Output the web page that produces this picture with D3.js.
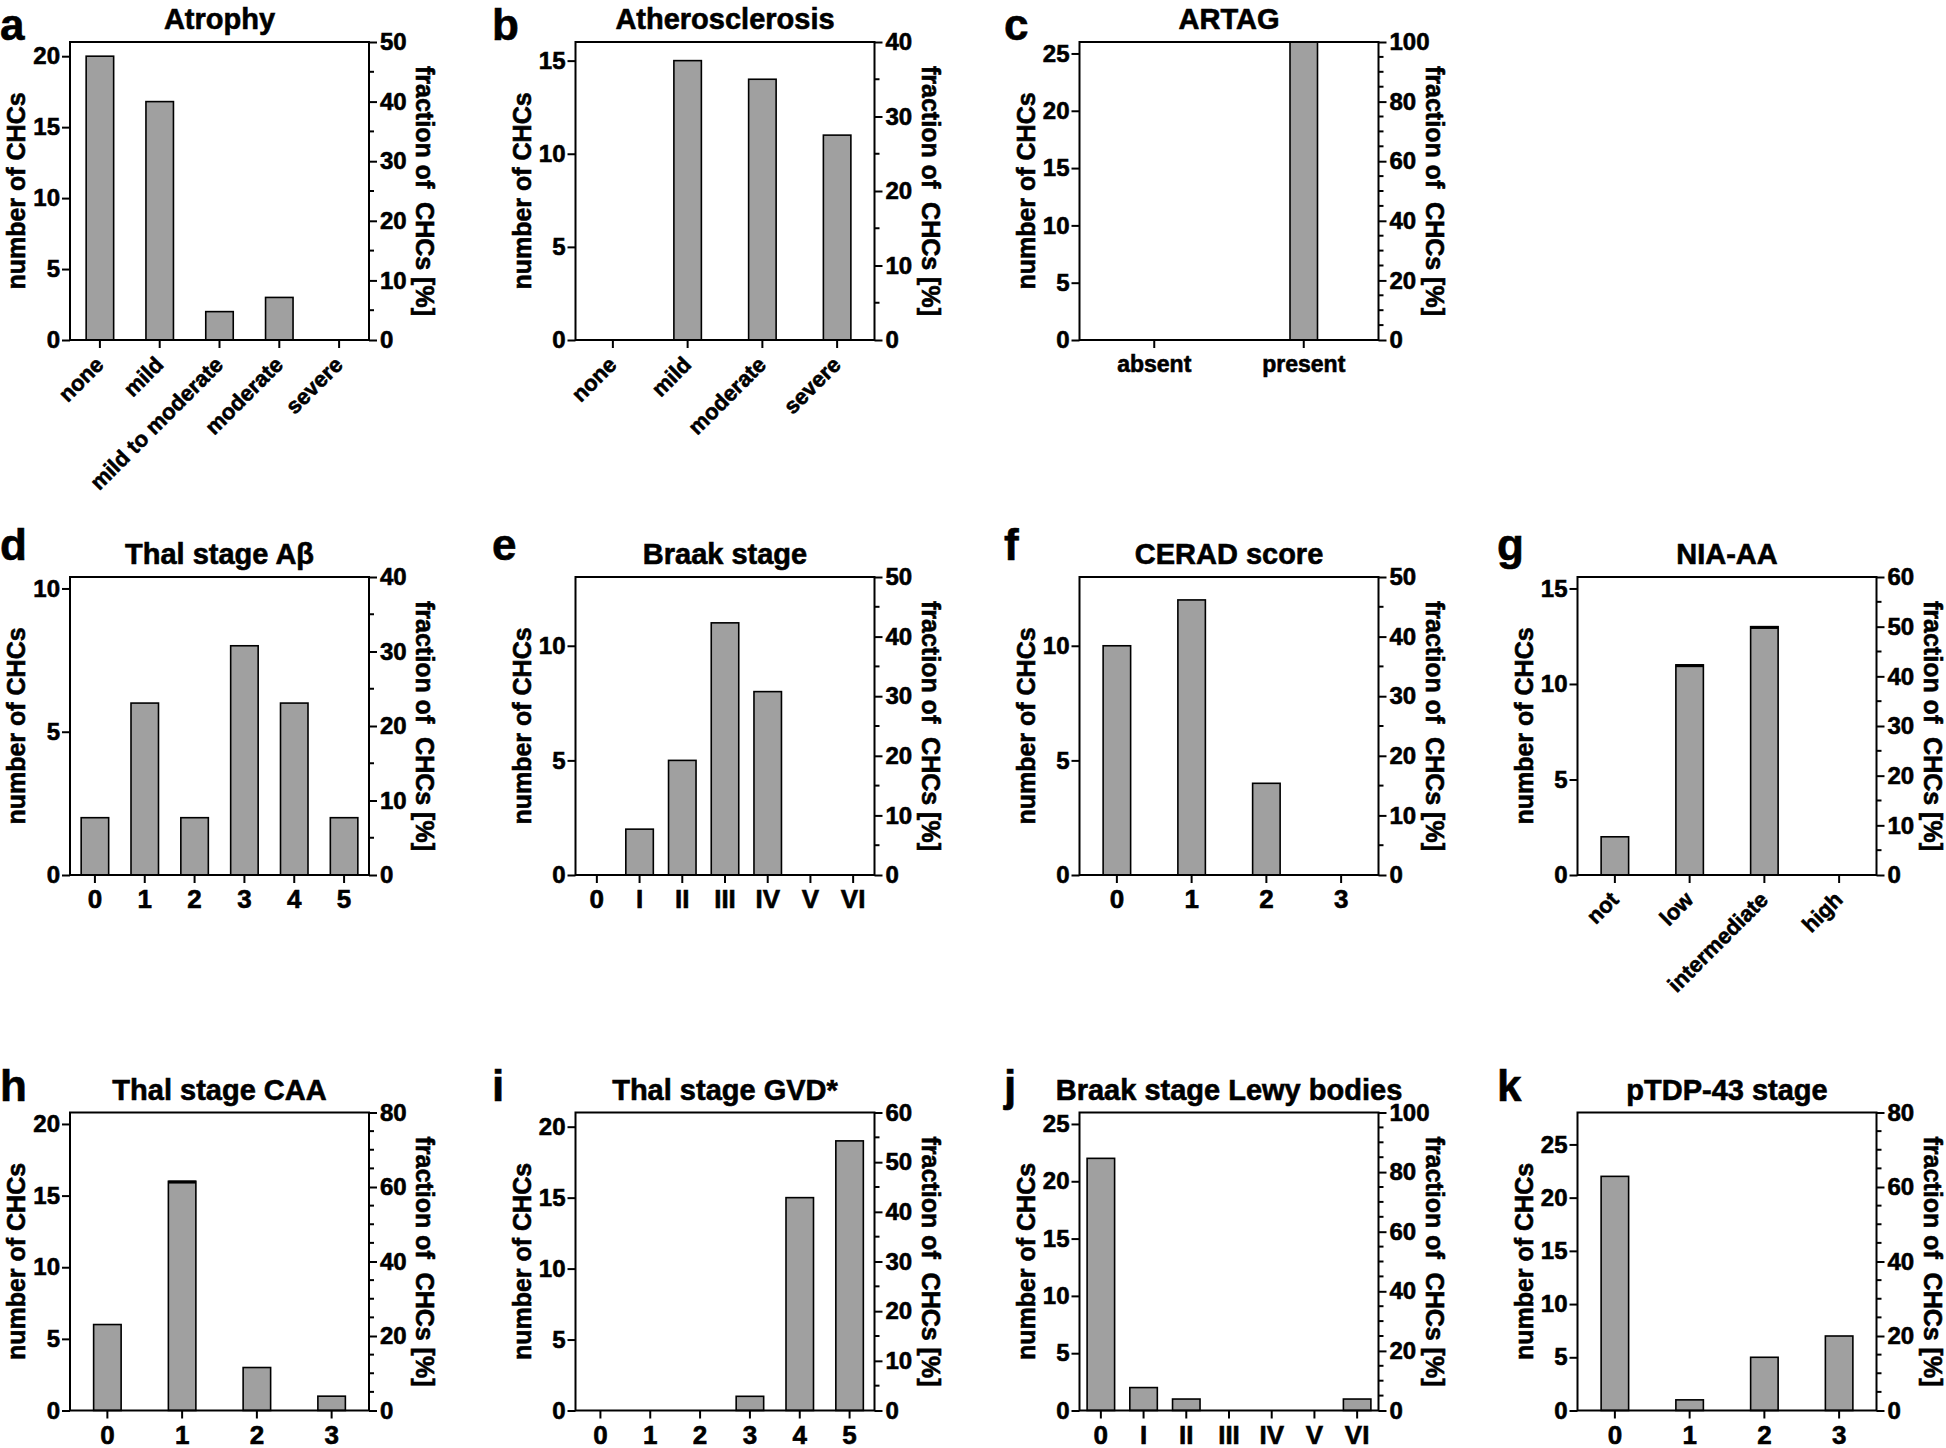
<!DOCTYPE html>
<html><head><meta charset="utf-8">
<script src="https://cdn.jsdelivr.net/npm/d3@7"></script>
<style>
body{margin:0;background:#fff;}
svg{display:block;font-family:"Liberation Sans",Arial,Helvetica,sans-serif;font-weight:bold;}
svg text{stroke:#000;stroke-width:0.6px;}
</style></head><body>
<svg id="chart" width="1946" height="1448"></svg>
<script>
// ---------- DATA ----------
const atrophyCategories = ["none","mild","mild to moderate","moderate","severe"];
const atrophyCounts = [20,16.8,2,3,0];
const atrophyLeftTicks = [0,5,10,15,20];
const atrophyRightTicks = [0,10,20,30,40,50];
const atrophyAxisMax = [21,50];

const atheroCategories = ["none","mild","moderate","severe"];
const atheroCounts = [0,15,14,11];
const atheroLeftTicks = [0,5,10,15];
const atheroRightTicks = [0,10,20,30,40];
const atheroAxisMax = [16,40];

const artagCategories = ["absent","present"];
const artagCounts = [0,26];
const artagLeftTicks = [0,5,10,15,20,25];
const artagRightTicks = [0,20,40,60,80,100];
const artagAxisMax = [26,100];

const thalAbCategories = ["0","1","2","3","4","5"];
const thalAbCounts = [2,6,2,8,6,2];
const thalAbLeftTicks = [0,5,10];
const thalAbRightTicks = [0,10,20,30,40];
const thalAbAxisMax = [10.4,40];

const braakCategories = ["0","I","II","III","IV","V","VI"];
const braakCounts = [0,2,5,11,8,0,0];
const braakLeftTicks = [0,5,10];
const braakRightTicks = [0,10,20,30,40,50];
const braakAxisMax = [13,50];

const ceradCategories = ["0","1","2","3"];
const ceradCounts = [10,12,4,0];
const ceradLeftTicks = [0,5,10];
const ceradRightTicks = [0,10,20,30,40,50];
const ceradAxisMax = [13,50];

const niaCategories = ["not","low","intermediate","high"];
const niaCounts = [2,11,13,0];
const niaLeftTicks = [0,5,10,15];
const niaRightTicks = [0,10,20,30,40,50,60];
const niaAxisMax = [15.6,60];

const caaCategories = ["0","1","2","3"];
const caaCounts = [6,16,3,1];
const caaLeftTicks = [0,5,10,15,20];
const caaRightTicks = [0,20,40,60,80];
const caaAxisMax = [20.8,80];

const gvdCategories = ["0","1","2","3","4","5"];
const gvdCounts = [0,0,0,1,15,19];
const gvdLeftTicks = [0,5,10,15,20];
const gvdRightTicks = [0,10,20,30,40,50,60];
const gvdAxisMax = [21,60];

const lewyCategories = ["0","I","II","III","IV","V","VI"];
const lewyCounts = [22,2,1,0,0,0,1];
const lewyLeftTicks = [0,5,10,15,20,25];
const lewyRightTicks = [0,20,40,60,80,100];
const lewyAxisMax = [26,100];

const tdpCategories = ["0","1","2","3"];
const tdpCounts = [22,1,5,7];
const tdpLeftTicks = [0,5,10,15,20,25];
const tdpRightTicks = [0,20,40,60,80];
const tdpAxisMax = [28,80];

const leftAxisTitle = "number of CHCs";
const rightAxisTitle = "fraction of\u00a0 CHCs [%]";

// ---------- LAYOUT / STYLE ----------
const W = 299, H = 298, BAR_W = 27.5;
const colX = [70, 575.5, 1079.5, 1577.5];
const rowY = [42, 577, 1112.5];
const letterX = [0, 492, 1004, 1497];
const letterBase = [40, 560, 1101];

const panels = [
  {letter:"a", title:"Atrophy", cats:atrophyCategories, counts:atrophyCounts, lt:atrophyLeftTicks, rt:atrophyRightTicks, max:atrophyAxisMax, rot:true, c:0, r:0},
  {letter:"b", title:"Atherosclerosis", cats:atheroCategories, counts:atheroCounts, lt:atheroLeftTicks, rt:atheroRightTicks, max:atheroAxisMax, rot:true, c:1, r:0},
  {letter:"c", title:"ARTAG", cats:artagCategories, counts:artagCounts, lt:artagLeftTicks, rt:artagRightTicks, max:artagAxisMax, rot:false, words:true, c:2, r:0},
  {letter:"d", title:"Thal stage A\u03b2", cats:thalAbCategories, counts:thalAbCounts, lt:thalAbLeftTicks, rt:thalAbRightTicks, max:thalAbAxisMax, rot:false, c:0, r:1},
  {letter:"e", title:"Braak stage", cats:braakCategories, counts:braakCounts, lt:braakLeftTicks, rt:braakRightTicks, max:braakAxisMax, rot:false, c:1, r:1},
  {letter:"f", title:"CERAD score", cats:ceradCategories, counts:ceradCounts, lt:ceradLeftTicks, rt:ceradRightTicks, max:ceradAxisMax, rot:false, c:2, r:1},
  {letter:"g", title:"NIA-AA", cats:niaCategories, counts:niaCounts, lt:niaLeftTicks, rt:niaRightTicks, max:niaAxisMax, rot:true, thick:["low","intermediate"], c:3, r:1},
  {letter:"h", title:"Thal stage CAA", cats:caaCategories, counts:caaCounts, lt:caaLeftTicks, rt:caaRightTicks, max:caaAxisMax, rot:false, thick:["1"], c:0, r:2},
  {letter:"i", title:"Thal stage GVD*", cats:gvdCategories, counts:gvdCounts, lt:gvdLeftTicks, rt:gvdRightTicks, max:gvdAxisMax, rot:false, c:1, r:2},
  {letter:"j", title:"Braak stage Lewy bodies", cats:lewyCategories, counts:lewyCounts, lt:lewyLeftTicks, rt:lewyRightTicks, max:lewyAxisMax, rot:false, c:2, r:2},
  {letter:"k", title:"pTDP-43 stage", cats:tdpCategories, counts:tdpCounts, lt:tdpLeftTicks, rt:tdpRightTicks, max:tdpAxisMax, rot:false, c:3, r:2}
];

const svg = d3.select("#chart");

panels.forEach(p => {
  svg.append("text").attr("x", letterX[p.c]).attr("y", letterBase[p.r])
    .attr("font-size", 44).text(p.letter);

  const g = svg.append("g").attr("transform", `translate(${colX[p.c]},${rowY[p.r]})`);
  const x = d3.scaleBand().domain(p.cats).range([0, W]);
  const yL = d3.scaleLinear().domain([0, p.max[0]]).range([H, 0]);
  const yR = d3.scaleLinear().domain([0, p.max[1]]).range([H, 0]);

  g.append("text").attr("x", W/2).attr("y", -13).attr("text-anchor","middle")
    .attr("font-size", 29).text(p.title);

  const data = p.cats.map((c,i) => ({c, v:p.counts[i]})).filter(d => d.v > 0);
  g.selectAll("rect.bar").data(data).join("rect").attr("class","bar")
    .attr("x", d => x(d.c) + x.bandwidth()/2 - BAR_W/2)
    .attr("y", d => yL(d.v))
    .attr("width", BAR_W)
    .attr("height", d => H - yL(d.v))
    .attr("fill", "#a0a0a0").attr("stroke", "#000").attr("stroke-width", 1.6);

  if (p.thick) {
    g.selectAll("line.top").data(data.filter(d => p.thick.includes(d.c))).join("line")
      .attr("class","top")
      .attr("x1", d => x(d.c) + x.bandwidth()/2 - BAR_W/2)
      .attr("x2", d => x(d.c) + x.bandwidth()/2 + BAR_W/2)
      .attr("y1", d => yL(d.v) + 0.8).attr("y2", d => yL(d.v) + 0.8)
      .attr("stroke","#000").attr("stroke-width",3);
  }

  g.append("rect").attr("width", W).attr("height", H)
    .attr("fill","none").attr("stroke","#000").attr("stroke-width",2);

  const la = g.append("g").call(d3.axisLeft(yL).tickValues(p.lt).tickSize(8).tickPadding(2));
  const ra = g.append("g").attr("transform", `translate(${W},0)`)
    .call(d3.axisRight(yR).tickValues(p.rt).tickSize(8).tickPadding(3));
  const minor = d3.range(0, p.max[1] + 0.001, 5).filter(v => !p.rt.includes(v));
  g.append("g").attr("transform", `translate(${W},0)`)
    .selectAll("line").data(minor).join("line")
    .attr("x1",0).attr("x2",5).attr("y1", d => yR(d)).attr("y2", d => yR(d))
    .attr("stroke","#000").attr("stroke-width",2);
  const ba = g.append("g").attr("transform", `translate(0,${H})`)
    .call(d3.axisBottom(x).tickSize(8).tickPadding(6));

  [la, ra, ba].forEach(a => {
    a.select(".domain").remove();
    a.selectAll(".tick line").attr("stroke-width", 2);
    a.selectAll("text").attr("font-family", null).attr("fill","#000");
  });
  la.selectAll("text").attr("font-size", 24);
  ra.selectAll("text").attr("font-size", 24);
  if (p.rot) {
    ba.selectAll("text").attr("font-size", 22).attr("text-anchor","end")
      .attr("x", null).attr("y", null).attr("dy", null)
      .attr("transform", "translate(5,26) rotate(-45)");
  } else {
    ba.selectAll("text").attr("font-size", p.words ? 23 : 26).attr("dy", null).attr("y", p.words ? 32 : 33);
  }

  g.append("text").attr("transform", `translate(-45,${H/2}) rotate(-90)`)
    .attr("text-anchor","middle").attr("font-size",25).text(leftAxisTitle);
  g.append("text").attr("transform", `translate(${W+47},${H/2}) rotate(90)`)
    .attr("text-anchor","middle").attr("font-size",25).text(rightAxisTitle);
});
</script>
</body></html>
